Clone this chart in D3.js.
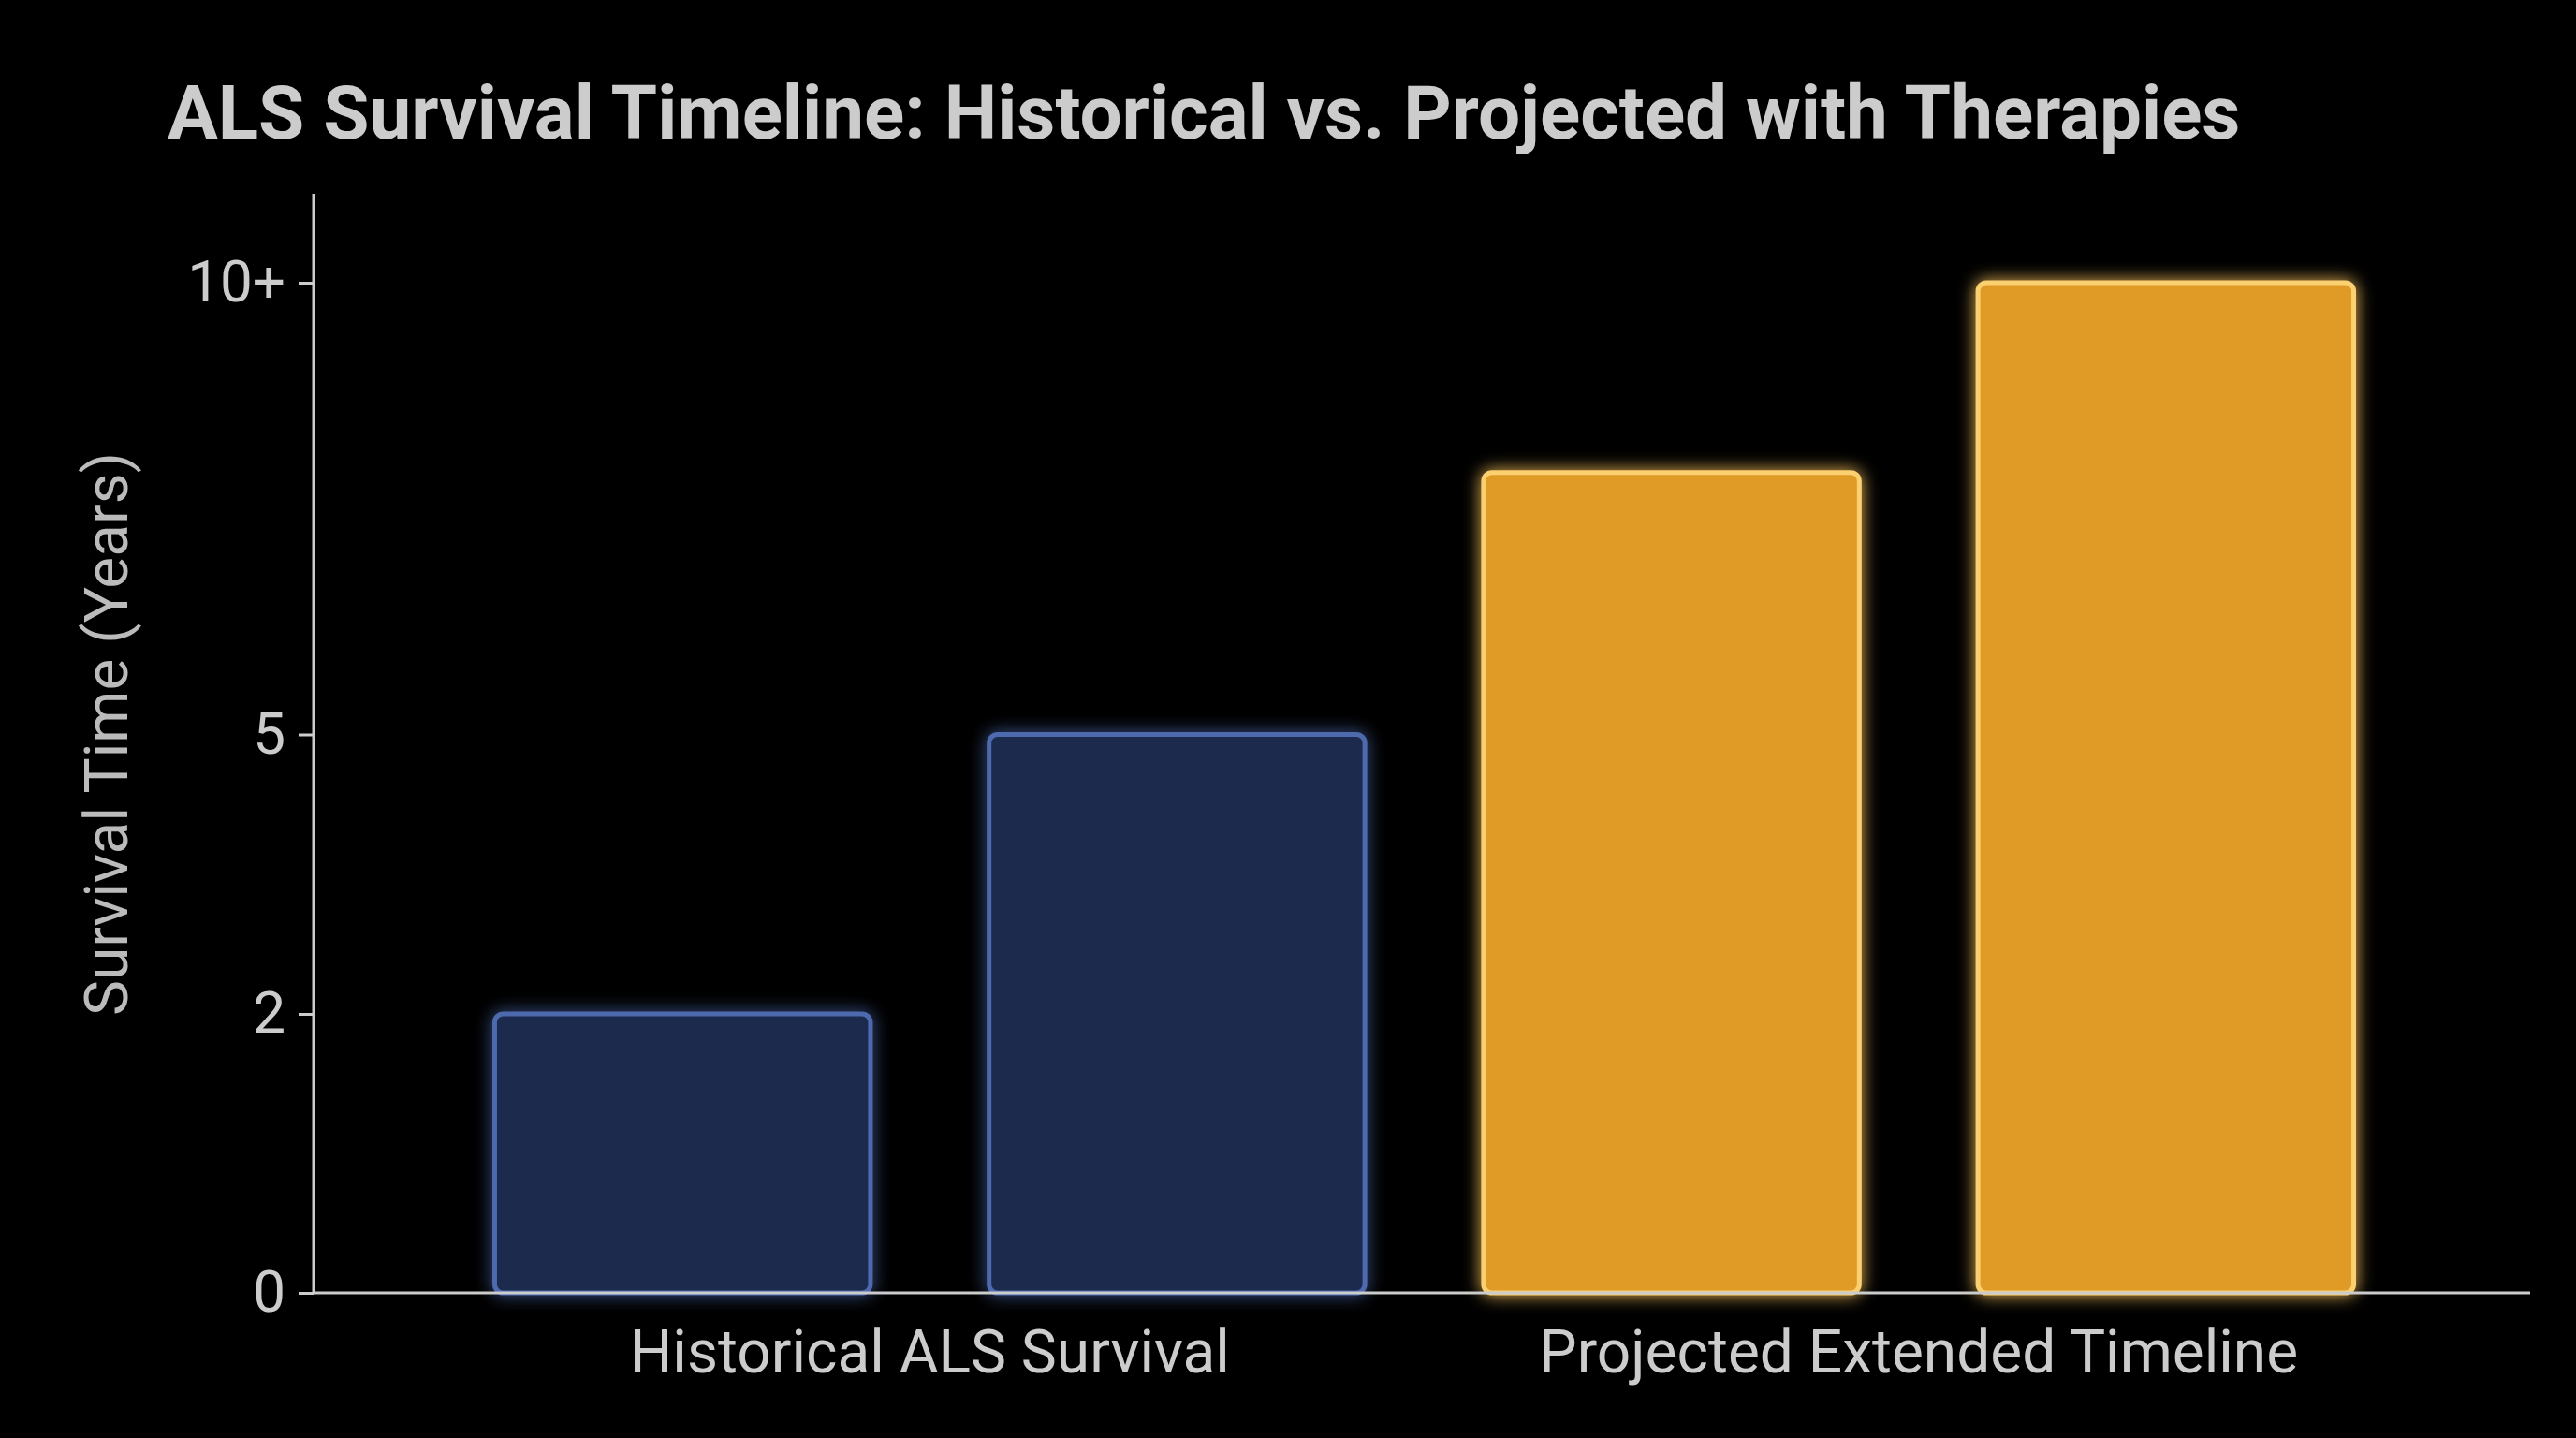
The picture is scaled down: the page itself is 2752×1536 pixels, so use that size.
<!DOCTYPE html>
<html><head><meta charset="utf-8">
<script src="https://cdn.jsdelivr.net/npm/d3@7"></script>
<style>html,body{margin:0;background:#000;}</style>
</head><body>
<svg id="c" width="2752" height="1536"></svg>
<script>
const categories = ["Historical A", "Historical B", "Projected A", "Projected B"];
const values = [2, 5, 7.9, 10];
const groups = ["historical", "historical", "projected", "projected"];
const groupLabels = ["Historical ALS Survival", "Projected Extended Timeline"];
const tickValues = [0, 2, 5, 10];
const tickLabels = ["0", "2", "5", "10+"];

const svg = d3.select("#c");
svg.append("rect").attr("width",2752).attr("height",1536).attr("fill","#000");
const defs = svg.append("defs");
const f = defs.append("filter").attr("id","glow").attr("x","-20%").attr("y","-20%").attr("width","140%").attr("height","140%");
f.append("feGaussianBlur").attr("in","SourceGraphic").attr("stdDeviation",9).attr("result","b");
const m = f.append("feMerge"); m.append("feMergeNode").attr("in","b"); m.append("feMergeNode").attr("in","SourceGraphic");

const left = 335, right = 2703, bottom = 1381;
const y = d3.scaleLinear().domain(tickValues).range([1381, 1083, 784.5, 302]);
const x = d3.scaleBand().domain(categories).range([370, 2673]).paddingInner(0.24).paddingOuter(0.3);

const style = {historical:{fill:"#1e2b4d",stroke:"#4d6aae"}, projected:{fill:"#e09a28",stroke:"#fbd070"}};
svg.selectAll(".bar").data(categories).join("rect")
  .attr("x", d=>x(d)).attr("width", x.bandwidth())
  .attr("y", (d,i)=>y(values[i])).attr("height",(d,i)=>bottom-y(values[i]))
  .attr("rx",9)
  .attr("fill",(d,i)=>style[groups[i]].fill)
  .attr("stroke",(d,i)=>style[groups[i]].stroke).attr("stroke-width",5)
  .attr("filter","url(#glow)");

const ax = svg.append("g").attr("transform",`translate(${left},0)`)
  .call(d3.axisLeft(y).tickValues(tickValues).tickFormat((d,i)=>tickLabels[i]).tickSize(16).tickPadding(14));
ax.select(".domain").remove();
ax.selectAll("line").attr("stroke","#ccc").attr("stroke-width",3);
ax.selectAll("text").attr("fill","#ccc").attr("font-family","Roboto").attr("font-size",62);
svg.append("line").attr("x1",left).attr("x2",left).attr("y1",207).attr("y2",bottom).attr("stroke","#ccc").attr("stroke-width",3);
svg.append("line").attr("x1",left).attr("x2",right).attr("y1",bottom).attr("y2",bottom).attr("stroke","#ccc").attr("stroke-width",3);

groupLabels.forEach((g,gi)=>{
  const a = x(categories[gi*2]), b = x(categories[gi*2+1]) + x.bandwidth();
  svg.append("text").attr("x",(a+b)/2).attr("y",1466).attr("text-anchor","middle")
    .attr("fill","#ccc").attr("font-family","Roboto").attr("font-size",64).text(g);
});

svg.append("text").attr("transform","translate(136,784) rotate(-90)").attr("text-anchor","middle")
  .attr("fill","#bbb").attr("font-family","Roboto").attr("font-size",64).text("Survival Time (Years)");
svg.append("text").attr("x",179).attr("y",148).attr("fill","#ccc").attr("font-family","Roboto")
  .attr("font-weight","bold").attr("font-size",80).text("ALS Survival Timeline: Historical vs. Projected with Therapies");
</script>
</body></html>
